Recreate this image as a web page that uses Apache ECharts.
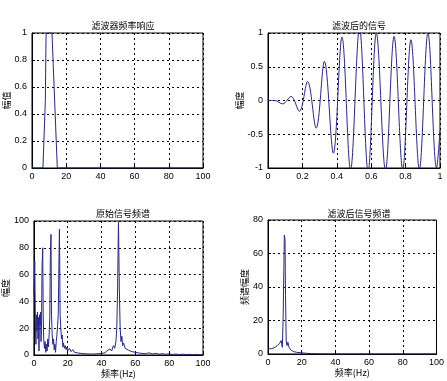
<!DOCTYPE html>
<html>
<head>
<meta charset="utf-8">
<script src="https://cdn.jsdelivr.net/npm/echarts@6/dist/echarts.min.js"></script>
<style>html,body{margin:0;padding:0;background:#fff;}#c{width:447px;height:381px;}</style>
</head>
<body>
<div id="c"></div>
<script>
// ---- Data ----
const titles = ['滤波器频率响应', '滤波后的信号', '原始信号频谱', '滤波后信号频谱'];
const yNames = ['幅值', '幅度', '幅度', '频谱幅度'];
const xName = '频率(Hz)';

// Filter frequency response
const respFreq = [0, 6.4, 7.8, 8.2, 8.4, 11.7, 12.3, 14.8, 100];
const respAmp  = [0, 0, 0.5, 0.97, 1, 1, 0.8, 0, 0];

// Filtered signal (time domain): start, then successive peaks / troughs
const sigTime = [0, 0.04, 0.085, 0.134, 0.182, 0.23, 0.28, 0.328, 0.38, 0.43, 0.48, 0.532, 0.582,
  0.630, 0.683, 0.733, 0.783, 0.831, 0.880, 0.930, 0.980, 1.0];
const sigAmp = [0, 0, -0.05, 0.06, -0.16, 0.28, -0.41, 0.58, -0.78, 0.94, -1.03, 1.08, -1.05,
  1.0, -1.04, 0.95, -1.02, 0.9, -1.02, 1.0, -1.0, -0.45];

// Original signal spectrum
const origFreq = [0, 0.5, 0.9, 1.2, 1.5, 1.8, 2.1, 2.4, 2.7, 3.0, 3.3, 3.6, 3.9, 4.2, 4.5, 4.8, 5.2, 5.5, 5.8, 6.2,
  6.6, 7.0, 7.4, 7.8, 8.2, 8.6, 9.0, 9.4, 9.7, 10.1, 10.4, 10.8, 11.2, 11.6, 12.0, 12.4, 12.8, 13.2, 13.6, 14.0,
  14.4, 14.7, 15.1, 15.5, 15.9, 16.3, 16.7, 17.1, 17.5, 18, 18.5, 19, 19.5, 20, 21, 22, 23, 24, 25, 26,
  27, 28, 29, 30, 31, 32, 33, 34, 35, 36, 37, 38, 39, 40, 41, 42, 43, 44, 45, 46,
  47, 47.8, 48.5, 49, 49.5, 50, 50.5, 51, 51.5, 52, 52.5, 53, 54, 55, 56, 57, 58, 59, 60, 61,
  62, 63, 64, 65, 66, 68, 70, 72, 74, 76, 78, 80, 82, 84, 86, 88, 90, 92, 94, 96, 98, 100];
const origAmp = [45, 70, 20, 8, 30, 18, 32, 12, 28, 3, 30, 22, 32, 10, 20, 65, 80, 30, 12, 5,
  10, 2, 8, 3, 12, 6, 15, 28, 72, 90, 30, 15, 8, 12, 4, 8, 2, 10, 15, 22,
  30, 60, 94, 30, 20, 12, 15, 6, 9, 5, 7, 4, 6, 3, 5, 2.5, 4, 2, 3, 1.5,
  2.5, 1.2, 2, 1, 1.8, 0.8, 1.5, 0.7, 1.4, 0.8, 1.6, 1, 2, 1.2, 2.5, 1.5, 3, 2, 4.5, 3,
  7, 5, 10, 20, 50, 99, 50, 20, 10, 14, 7, 9, 5, 6, 3.5, 4.5, 2.5, 3.5, 2, 3,
  1.5, 2.5, 1.2, 2, 1, 1.6, 0.8, 1.2, 0.6, 1, 0.5, 0.9, 0.4, 0.7, 0.3, 0.6, 0.3, 0.5, 0.2, 0.4, 0.2, 0.3];

// Filtered signal spectrum
const filtFreq = [0, 2, 4, 5.5, 7, 7.8, 8.5, 9.0, 9.4, 9.7, 10.1, 10.4, 10.8, 11.3, 11.8, 12.5, 13.5, 15, 17, 20, 23, 26, 30, 35, 40, 100];
const filtAmp  = [3, 3.2, 3.8, 5, 6.5, 8, 4, 22, 50, 71, 68, 35, 8, 5, 7, 4, 2.5, 1.5, 1, 0.7, 0.4, 0.2, 0.1, 0, 0, 0];

// ---- Layout ----
const grids = [
  {left: 32, top: 33, width: 171, height: 135},
  {left: 268, top: 33, width: 172, height: 135},
  {left: 32, top: 221, width: 171, height: 134},
  {left: 268, top: 220, width: 171, height: 134}
];
const lineColor = '#26268f';
const font = 'Liberation Sans, Arial, sans-serif';
const cjk = '"Noto Sans CJK SC", sans-serif';

const zip = (a, b) => a.map((v, i) => [v, b[i]]);

const split = {show: true, lineStyle: {color: '#000', width: 1, type: [2, 3]}};
const axLine = {show: true, onZero: false, lineStyle: {color: '#000', width: 1}};
const tick = {show: true, inside: true, length: 3, lineStyle: {color: '#000'}};
const lbl = {color: '#000', fontSize: 9, fontFamily: font};

const xAxis = [
  {gridIndex: 0, type: 'value', min: 0, max: 100, interval: 20},
  {gridIndex: 1, type: 'value', min: 0, max: 1, interval: 0.2},
  {gridIndex: 2, type: 'value', min: 0, max: 100, interval: 20, name: xName, nameLocation: 'middle', nameGap: 13},
  {gridIndex: 3, type: 'value', min: 0, max: 100, interval: 20, name: xName, nameLocation: 'middle', nameGap: 13}
].map(a => Object.assign(a, {
  axisLine: axLine, axisTick: tick, splitLine: split,
  axisLabel: Object.assign({margin: 4}, lbl),
  nameTextStyle: {color: '#000', fontSize: 9, fontFamily: cjk}
}));

const yAxis = [
  {gridIndex: 0, type: 'value', min: 0, max: 1, interval: 0.2, nameGap: 18},
  {gridIndex: 1, type: 'value', min: -1, max: 1, interval: 0.5, nameGap: 24},
  {gridIndex: 2, type: 'value', min: 0, max: 100, interval: 20, nameGap: 18},
  {gridIndex: 3, type: 'value', min: 0, max: 80, interval: 20, nameGap: 16}
].map((a, i) => Object.assign(a, {
  name: yNames[i], nameLocation: 'middle', nameRotate: 90,
  axisLine: axLine, axisTick: tick, splitLine: split,
  axisLabel: Object.assign({margin: 5}, lbl),
  nameTextStyle: {color: '#000', fontSize: 9, fontFamily: cjk}
}));

const titleCenters = [[118, 16], [354, 16], [118, 204], [354, 204]];
const title = titles.map((t, i) => ({
  text: t, left: titleCenters[i][0], top: titleCenters[i][1], textAlign: 'center',
  textStyle: {color: '#000', fontSize: 9, fontWeight: 'normal', fontFamily: cjk}
}));

const mk = (idx, data, smooth) => ({
  type: 'line', xAxisIndex: idx, yAxisIndex: idx, data: data, smooth: smooth,
  showSymbol: false, symbol: 'none', clip: true,
  lineStyle: {color: lineColor, width: 1}
});

const chart = echarts.init(document.getElementById('c'), null, {renderer: 'canvas'});
chart.setOption({
  animation: false,
  backgroundColor: '#fff',
  title: title,
  grid: grids.map(g => Object.assign({show: true, borderColor: '#000', borderWidth: 1, backgroundColor: '#fff'}, g)),
  xAxis: xAxis,
  yAxis: yAxis,
  series: [
    mk(0, zip(respFreq, respAmp), false),
    mk(1, zip(sigTime, sigAmp), 0.36),
    mk(2, zip(origFreq, origAmp), false),
    mk(3, zip(filtFreq, filtAmp), false)
  ]
});
</script>
</body>
</html>
